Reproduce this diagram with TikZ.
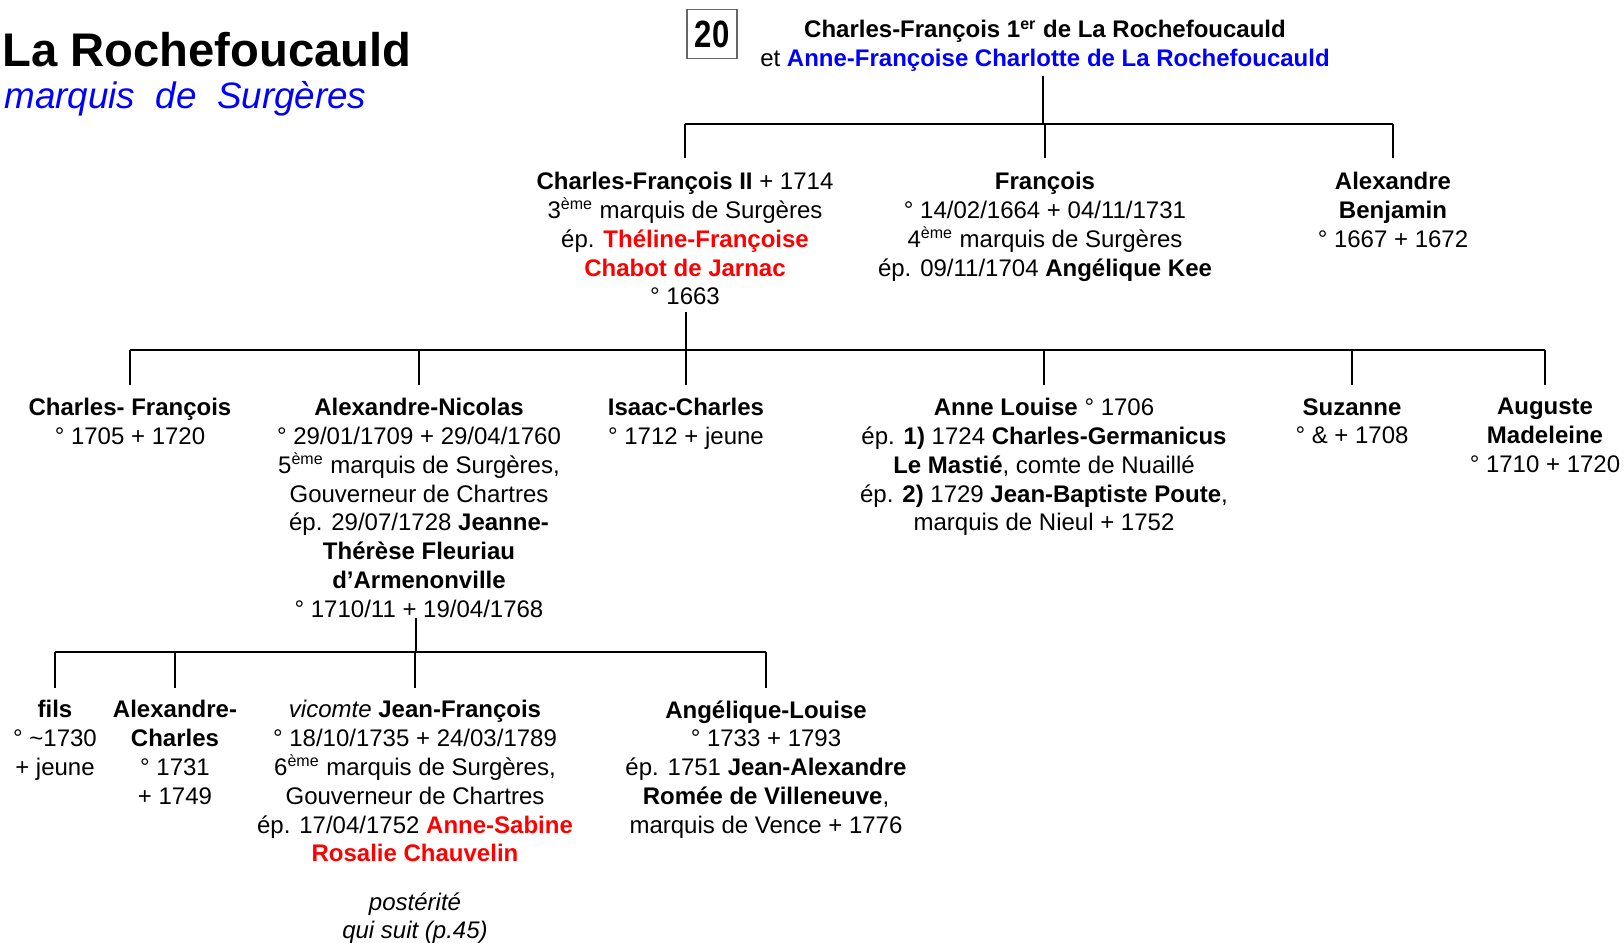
\documentclass[tikz,border=0pt]{standalone}
\usepackage{fontspec}
\setmainfont{Liberation Sans}
\usetikzlibrary{calc}

\begin{document}
\begin{tikzpicture}[x=0.5pt, y=-0.5pt, person/.style={align=center,
            anchor=north, inner sep=0pt, font=\fontsize{12}{14.4}\selectfont},
          link/.style={line width=1.1pt}]
  \useasboundingbox (0,0) rectangle (1624,943);

  \node[anchor=base west, inner sep=0pt, font=\fontsize{23.6}{28}\selectfont\bfseries]
    (title) at (2,66) {La Rochefoucauld};
  \node[anchor=base west, inner sep=0pt, text=blue,
    font=\fontsize{18.4}{22}\selectfont\itshape] (subtitle) at (4,108)
    {marquis\ \ de\ \ Surgères};
  \node[draw=black!60, line width=0.6pt, minimum width=25pt, minimum height=24.5pt,
    inner sep=0pt, font=\fontsize{19}{20}\selectfont\bfseries] (num) at (712,34)
    {\scalebox{0.82}[1]{20}};

  \node[person] (parents) at (1045,20)
    {\textbf{Charles-François 1\textsuperscript{er} de La Rochefoucauld}\\
     et \textcolor{blue}{\textbf{Anne-Françoise Charlotte de La Rochefoucauld}}};

  \node[person] (cf2) at (685,172)
    {\textbf{Charles-François II} + 1714\\
     3\textsuperscript{ème} marquis de Surgères\\
     ép. \textcolor{red}{\textbf{Théline-Françoise}}\\
     \textcolor{red}{\textbf{Chabot de Jarnac}}\\
     ° 1663};
  \node[person] (fr) at (1045,172)
    {\textbf{François}\\
     ° 14/02/1664 + 04/11/1731\\
     4\textsuperscript{ème} marquis de Surgères\\
     ép. 09/11/1704 \textbf{Angélique Kee}};
  \node[person] (ab) at (1393,172)
    {\textbf{Alexandre}\\ \textbf{Benjamin}\\ ° 1667 + 1672};

  \node[person] (cf) at (130,398)
    {\textbf{Charles- François}\\ ° 1705 + 1720};
  \node[person] (an) at (419,398)
    {\textbf{Alexandre-Nicolas}\\
     ° 29/01/1709 + 29/04/1760\\
     5\textsuperscript{ème} marquis de Surgères,\\
     Gouverneur de Chartres\\
     ép. 29/07/1728 \textbf{Jeanne-}\\
     \textbf{Thérèse Fleuriau}\\
     \textbf{d’Armenonville}\\
     ° 1710/11 + 19/04/1768};
  \node[person] (ic) at (686,398)
    {\textbf{Isaac-Charles}\\ ° 1712 + jeune};
  \node[person] (al) at (1044,398)
    {\textbf{Anne Louise} ° 1706\\
     ép. \textbf{1)} 1724 \textbf{Charles-Germanicus}\\
     \textbf{Le Mastié}, comte de Nuaillé\\
     ép. \textbf{2)} 1729 \textbf{Jean-Baptiste Poute},\\
     marquis de Nieul + 1752};
  \node[person] (su) at (1352,398)
    {\textbf{Suzanne}\\ ° \& + 1708};
  \node[person] (am) at (1545,398)
    {\textbf{Auguste}\\ \textbf{Madeleine}\\ ° 1710 + 1720};

  \node[person] (fi) at (55,700)
    {\textbf{fils}\\ ° \textasciitilde1730\\ + jeune};
  \node[person] (ac) at (175,700)
    {\textbf{Alexandre-}\\ \textbf{Charles}\\ ° 1731\\ + 1749};
  \node[person] (jf) at (415,700)
    {\textit{vicomte} \textbf{Jean-François}\\
     ° 18/10/1735 + 24/03/1789\\
     6\textsuperscript{ème} marquis de Surgères,\\
     Gouverneur de Chartres\\
     ép. 17/04/1752 \textcolor{red}{\textbf{Anne-Sabine}}\\
     \textcolor{red}{\textbf{Rosalie Chauvelin}}};
  \node[person, font=\fontsize{12}{14.4}\selectfont\itshape] (suite) at (415,892)
    {postérité\\ qui suit (p.45)};
  \node[person] (alo) at (766,700)
    {\textbf{Angélique-Louise}\\
     ° 1733 + 1793\\
     ép. 1751 \textbf{Jean-Alexandre}\\
     \textbf{Romée de Villeneuve},\\
     marquis de Vence + 1776};

  \coordinate (bar1) at (1043,124);
  \coordinate (bar2) at (686,350);
  \coordinate (bar3) at (416,652);

  \draw[link] (bar1) -- ([yshift=-2pt]bar1 |- parents.south);
  \draw[link] (bar1 -| cf2.north) -- (bar1 -| ab.north);
  \foreach \n in {cf2,fr,ab}
    \draw[link] (bar1 -| \n.north) -- ([yshift=7pt]\n.north);

  \draw[link] (bar2) -- ([yshift=-3pt]bar2 |- cf2.south);
  \draw[link] (bar2 -| cf.north) -- (bar2 -| am.north);
  \foreach \n in {cf,an,ic,al,su,am}
    \draw[link] (bar2 -| \n.north) -- ([yshift=6.5pt]\n.north);

  \draw[link] (bar3) -- (bar3 |- an.south);
  \draw[link] (bar3 -| fi.north) -- (bar3 -| alo.north);
  \foreach \n in {fi,ac,jf,alo}
    \draw[link] (bar3 -| \n.north) -- ([yshift=6pt]\n.north);
\end{tikzpicture}
\end{document}
